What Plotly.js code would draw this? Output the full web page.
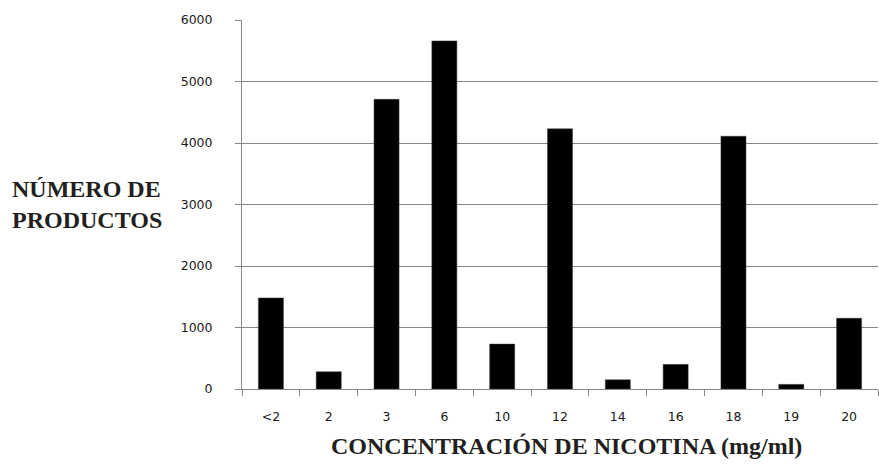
<!DOCTYPE html>
<html>
<head>
<meta charset="utf-8">
<script src="https://cdn.plot.ly/plotly-3.0.1.min.js"></script>
<style>html,body{margin:0;padding:0;background:#fff;}#chart{width:879px;height:464px;}</style>
</head>
<body>
<div id="chart"></div>
<script>
const categories = ["<2", "2", "3", "6", "10", "12", "14", "16", "18", "19", "20"];
const productCounts = [1480, 280, 4710, 5660, 730, 4230, 150, 400, 4110, 75, 1150];
const yTickValues = [0, 1000, 2000, 3000, 4000, 5000, 6000];
const xTitle = "CONCENTRACIÓN DE NICOTINA (mg/ml)";
const yTitleLines = ["NÚMERO DE", "PRODUCTOS"];

const trace = {
  type: "bar",
  x: categories,
  y: productCounts,
  marker: {color: "#000000", line: {color: "#3a3a3a", width: 0.5}},
  hoverinfo: "x+y"
};

const tickFont = {family: "DejaVu Sans, Verdana, sans-serif", size: 12.5, color: "#1a1a1a"};
const titleFont = {family: "Liberation Serif, Times New Roman, serif", size: 24, color: "#231f20"};

const layout = {
  width: 879, height: 464,
  margin: {l: 242, r: 1, t: 20, b: 75},
  paper_bgcolor: "#ffffff", plot_bgcolor: "#ffffff",
  bargap: 0.567,
  showlegend: false,
  font: tickFont,
  xaxis: {
    type: "category",
    showgrid: false,
    showline: true, linecolor: "#868686", linewidth: 1,
    ticks: "outside", ticklen: 6, tickcolor: "#868686", tickwidth: 1,
    tickson: "boundaries",
    ticklabelstandoff: 16,
    tickfont: tickFont,
    zeroline: false
  },
  yaxis: {
    range: [0, 6000],
    tickvals: yTickValues,
    showgrid: true, gridcolor: "#868686", gridwidth: 1,
    showline: true, linecolor: "#868686", linewidth: 1,
    ticks: "outside", ticklen: 6, tickcolor: "#868686", tickwidth: 1,
    ticklabelstandoff: 20,
    tickfont: tickFont,
    zeroline: false
  },
  annotations: [
    {
      text: "<b>" + xTitle + "</b>", showarrow: false,
      xref: "paper", yref: "paper", x: 0.511, y: -0.1545,
      xanchor: "center", yanchor: "middle",
      font: titleFont
    },
    {
      text: yTitleLines.map(s => "<b>" + s + "</b>").join("<br>"), showarrow: false,
      xref: "paper", yref: "paper", x: -232/636, y: 0.499,
      xanchor: "left", yanchor: "middle", align: "left",
      font: titleFont
    }
  ]
};

Plotly.newPlot("chart", [trace], layout, {displayModeBar: false, staticPlot: true});
</script>
</body>
</html>
